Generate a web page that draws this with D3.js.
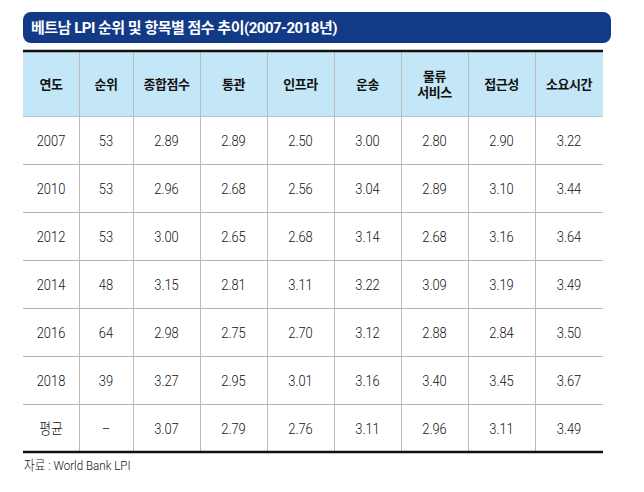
<!DOCTYPE html>
<html>
<head>
<meta charset="utf-8">
<script src="https://cdn.jsdelivr.net/npm/d3@7"></script>
<style>
  body { margin: 0; background: #fff; }
  svg text { font-family: Roboto, "Noto Sans CJK KR", sans-serif; }
</style>
</head>
<body>
<script>
// data
const title = "베트남 LPI 순위 및 항목별 점수 추이(2007-2018년)";
const source = "자료 : World Bank LPI";
const headers = ["연도", "순위", "종합점수", "통관", "인프라", "운송", "물류\n서비스", "접근성", "소요시간"];
const years = ["2007", "2010", "2012", "2014", "2016", "2018", "평균"];
const ranks = ["53", "53", "53", "48", "64", "39", "–"];
const overall = ["2.89", "2.96", "3.00", "3.15", "2.98", "3.27", "3.07"];
const customs = ["2.89", "2.68", "2.65", "2.81", "2.75", "2.95", "2.79"];
const infra = ["2.50", "2.56", "2.68", "3.11", "2.70", "3.01", "2.76"];
const shipments = ["3.00", "3.04", "3.14", "3.22", "3.12", "3.16", "3.11"];
const logistics = ["2.80", "2.89", "2.68", "3.09", "2.88", "3.40", "2.96"];
const tracking = ["2.90", "3.10", "3.16", "3.19", "2.84", "3.45", "3.11"];
const timeliness = ["3.22", "3.44", "3.64", "3.49", "3.50", "3.67", "3.49"];

const columns = [years, ranks, overall, customs, infra, shipments, logistics, tracking, timeliness];

// layout
const width = 644, height = 492;
const colUnits = [56, 54, 67, 67, 67, 67, 67, 67, 68];
const colEdges = [0];
colUnits.forEach(u => colEdges.push(colEdges[colEdges.length - 1] + u));

const x = d3.scaleLinear().domain([0, colEdges[colEdges.length - 1]]).range([23, 603]);
const y = d3.scaleBand().domain(years).range([116, 452]);
const narrow = 0.86; // cell text is a condensed face in the original

const svg = d3.select("body").append("svg")
    .attr("width", width)
    .attr("height", height);

// title bar
svg.append("rect")
    .attr("x", 23).attr("y", 12)
    .attr("width", 588).attr("height", 31)
    .attr("rx", 8)
    .attr("fill", "#133a87");
svg.append("text")
    .attr("x", 31).attr("y", 33)
    .attr("fill", "#fff")
    .attr("font-size", 15)
    .attr("font-weight", "bold")
    .attr("letter-spacing", -0.5)
    .text(title);

// header background
svg.append("rect")
    .attr("x", x(0)).attr("y", 52)
    .attr("width", x(colEdges[colEdges.length - 1]) - x(0))
    .attr("height", 116 - 52)
    .attr("fill", "#c4e7f7");

// horizontal row lines
svg.append("g").selectAll("line")
    .data(years.slice(1))
    .join("line")
    .attr("x1", x(0)).attr("x2", x(colEdges[colEdges.length - 1]))
    .attr("y1", d => Math.round(y(d)) + 0.5)
    .attr("y2", d => Math.round(y(d)) + 0.5)
    .attr("stroke", "#b4b4b4")
    .attr("stroke-width", 1);

svg.append("line")
    .attr("x1", x(0)).attr("x2", x(colEdges[colEdges.length - 1]))
    .attr("y1", 116.5).attr("y2", 116.5)
    .attr("stroke", "#b4c8d2");

// vertical column lines
svg.append("g").selectAll("line")
    .data(colEdges.slice(1, -1))
    .join("line")
    .attr("x1", d => Math.round(x(d)) + 0.5)
    .attr("x2", d => Math.round(x(d)) + 0.5)
    .attr("y1", 52).attr("y2", 452)
    .attr("stroke", "#bdbdbd")
    .attr("stroke-width", 1);

// thick top / bottom rules
svg.append("line")
    .attr("x1", x(0)).attr("x2", x(colEdges[colEdges.length - 1]))
    .attr("y1", 51).attr("y2", 51)
    .attr("stroke", "#111").attr("stroke-width", 2.5);
svg.append("line")
    .attr("x1", x(0)).attr("x2", x(colEdges[colEdges.length - 1]))
    .attr("y1", 452).attr("y2", 452)
    .attr("stroke", "#111").attr("stroke-width", 2.5);

// headers
const cx = i => (x(colEdges[i]) + x(colEdges[i + 1])) / 2;
const head = svg.append("g").selectAll("text")
    .data(headers)
    .join("text")
    .attr("text-anchor", "middle")
    .attr("font-size", 13)
    .attr("font-weight", "bold")
    .attr("fill", "#111")
    .attr("letter-spacing", -0.5);
head.each(function (d, i) {
    const lines = d.split("\n");
    const t = d3.select(this);
    lines.forEach((l, k) => {
        t.append("tspan")
            .attr("x", cx(i))
            .attr("y", 84 + 4.5 + (k - (lines.length - 1) / 2) * 16)
            .text(l);
    });
});

// cells
columns.forEach((col, i) => {
    svg.append("g").selectAll("text")
        .data(col.map((v, r) => ({ v, r: years[r] })))
        .join("text")
        .attr("transform", d => `translate(${cx(i)},${y(d.r) + y.bandwidth() / 2 + 5.5}) scale(${narrow},1)`)
        .attr("text-anchor", "middle")
        .attr("font-size", 15)
        .attr("font-weight", 300)
        .attr("fill", "#111")
        .text(d => d.v);
});

// source
svg.append("text")
    .attr("transform", `translate(24,470) scale(${narrow},1)`)
    .attr("font-size", 13.5)
    .attr("font-weight", 300)
    .attr("fill", "#111")
    .text(source);
</script>
</body>
</html>
